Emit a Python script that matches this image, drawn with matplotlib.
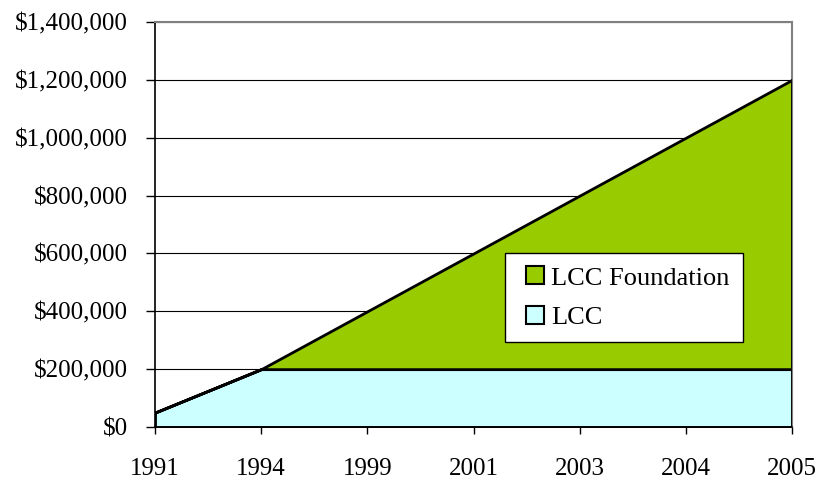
import numpy as np
import matplotlib.pyplot as plt
from matplotlib.patches import Patch, Rectangle
from matplotlib.legend_handler import HandlerPatch
from matplotlib.ticker import FuncFormatter

# Data
years = ['1991', '1994', '1999', '2001', '2003', '2004', '2005']
lcc = [50000, 200000, 200000, 200000, 200000, 200000, 200000]
lcc_foundation = [0, 0, 200000, 400000, 600000, 800000, 1000000]

plt.rcParams['font.family'] = ['Liberation Serif', 'DejaVu Serif']

fig = plt.figure(figsize=(8.19, 4.78), dpi=100)
ax = fig.add_axes([0.1893, 0.1067, 0.7778, 0.8473])

x = np.arange(len(years))
total = np.array(lcc) + np.array(lcc_foundation)

ax.fill_between(x, 0, lcc, facecolor='#CCFFFF', edgecolor='black', linewidth=2, zorder=2)
ax.fill_between(x, lcc, total, facecolor='#99CC00', edgecolor='black', linewidth=2, zorder=2)
ax.plot([x[-1], x[-1]], [0, total[-1]], color='black', linewidth=2, zorder=3)

# gridlines
ax.set_yticks(np.arange(0, 1400001, 200000))
ax.yaxis.grid(True, color='black', linewidth=0.8, zorder=1)
ax.set_axisbelow(True)
ax.yaxis.set_major_formatter(FuncFormatter(lambda v, p: '${:,.0f}'.format(v)))

ax.set_xticks(x)
ax.set_xticklabels(years)
ax.set_xlim(0, len(years) - 1)
ax.set_ylim(0, 1400000)

ax.tick_params(axis='both', labelsize=18, color='black', width=1, direction='out')
ax.tick_params(axis='x', length=5, pad=17)
ax.tick_params(axis='y', length=6.5, pad=13)

for side in ['top', 'right']:
    ax.spines[side].set_color('#808080')
    ax.spines[side].set_linewidth(1.5)
for side in ['left', 'bottom']:
    ax.spines[side].set_color('black')
    ax.spines[side].set_linewidth(1.2)


# small square legend keys pushed to the right of their handle box
def square_key(legend, orig_handle, xdescent, ydescent, width, height, fontsize):
    s = 0.68 * fontsize
    return Rectangle((width - s - xdescent, (height - s) / 2 - ydescent), s, s)


handles = [Patch(facecolor='#99CC00', edgecolor='black', linewidth=1.5, label='LCC Foundation'),
           Patch(facecolor='#CCFFFF', edgecolor='black', linewidth=1.5, label='LCC')]
leg = ax.legend(handles=handles, loc='upper left', bbox_to_anchor=(0.549, 0.43),
                fontsize=19, fancybox=False, framealpha=1, edgecolor='black',
                handlelength=1.0, handleheight=0.7, handletextpad=0.25,
                borderpad=0.5, labelspacing=0.6, borderaxespad=0,
                handler_map={Patch: HandlerPatch(patch_func=square_key)})
leg.get_frame().set_linewidth(1)
leg.set_zorder(5)

fig.savefig('out.png', dpi=100)
